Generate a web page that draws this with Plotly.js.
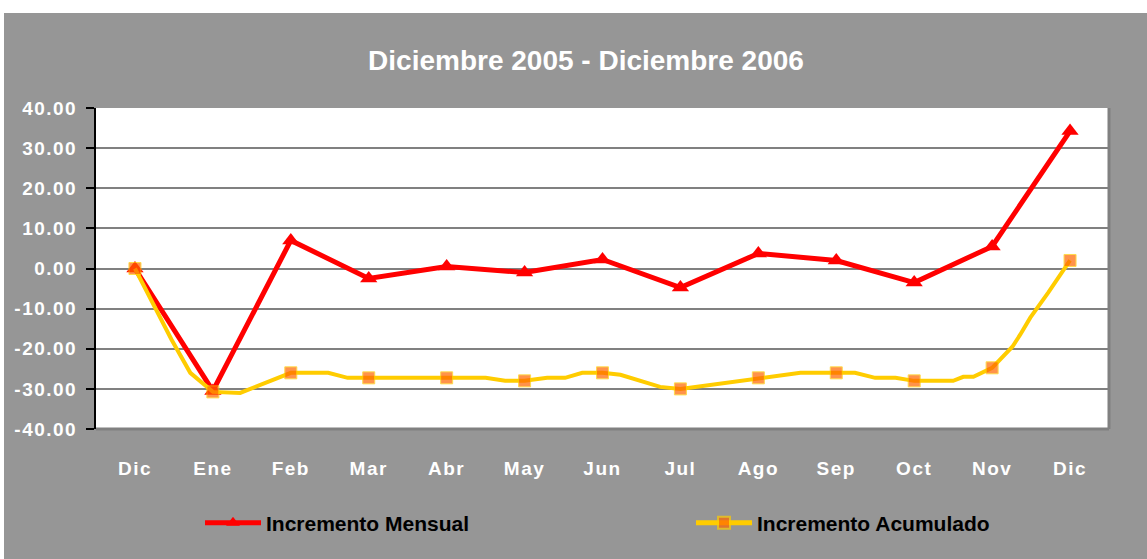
<!DOCTYPE html>
<html>
<head>
<meta charset="utf-8">
<script src="https://cdn.plot.ly/plotly-3.0.1.min.js"></script>
<style>
  html, body { margin: 0; padding: 0; background: #ffffff; width: 1147px; height: 559px; overflow: hidden; }
  #chart { position: absolute; left: 4px; top: 13px; width: 1143px; height: 546px; }
  #chart .xtick text, #chart .ytick text { letter-spacing: 1.5px; }
</style>
</head>
<body>
<div id="chart"></div>
<script>
// ---- Data ----
const meses = ["Dic", "Ene", "Feb", "Mar", "Abr", "May", "Jun", "Jul", "Ago", "Sep", "Oct", "Nov", "Dic"];
const incrementoMensual = [0, -30.5, 7, -2.5, 0.5, -1, 2.25, -4.75, 3.75, 2, -3.5, 5.5, 34.25];

// Accumulated series: drawn path with intermediate vertices (month index positions)
const acumuladoPos = [0, 0.47, 0.71, 1, 1.35, 2, 2.48, 2.73, 3, 4, 4.5, 4.75, 5, 5.29, 5.52, 5.74, 6,
                      6.23, 6.74, 7, 8, 8.54, 9, 9.24, 9.5, 9.76, 10, 10.5, 10.63, 10.76, 11,
                      11.26, 11.36, 11.49, 11.72, 12];
const incrementoAcumulado = [0, -17.75, -26, -30.75, -31, -26, -26, -27.25, -27.25, -27.25, -27.25, -28, -28, -27.25, -27.25, -26, -26,
                             -26.5, -29.5, -30, -27.25, -26, -26, -26, -27.25, -27.25, -28, -28, -27, -27, -24.75,
                             -19.5, -16.5, -12.25, -6, 2];
const yTicks = [-40, -30, -20, -10, 0, 10, 20, 30, 40];

// ---- Derived ----
const idx = meses.map((m, i) => i);
const limites = [];
for (let i = 0; i <= meses.length; i++) limites.push(i - 0.5);
const acumMarkerSize = acumuladoPos.map(p => Number.isInteger(p) ? 12 : 0);

const FONT = "'Liberation Sans', Arial, sans-serif";
const GRAY_BG = "#969696";
const GRID = "#808080";

const traces = [
  {
    type: "scatter", mode: "lines+markers", name: "Incremento Mensual",
    x: idx, y: incrementoMensual,
    line: { color: "#ff0000", width: 5 },
    marker: { symbol: "triangle-up", size: 15, color: "#ff0000" },
    legend: "legend",
    hoverinfo: "skip"
  },
  {
    type: "scatter", mode: "lines+markers", name: "Incremento Acumulado",
    x: acumuladoPos, y: incrementoAcumulado,
    line: { color: "#ffcc00", width: 4 },
    marker: { symbol: "square", size: acumMarkerSize, color: "#ff6600" },
    legend: "legend2",
    hoverinfo: "skip"
  }
];

const legendFont = { family: FONT, size: 21, color: "#000000", weight: 700 };
const legendBase = {
  orientation: "h", xref: "container", yref: "container",
  xanchor: "left", y: 1 - 510 / 546, yanchor: "middle",
  bgcolor: "rgba(0,0,0,0)", borderwidth: 0,
  itemwidth: 56, itemsizing: "constant", font: legendFont
};

const layout = {
  width: 1143, height: 546,
  paper_bgcolor: GRAY_BG, plot_bgcolor: "#ffffff",
  margin: { l: 92, r: 38, t: 95, b: 130 },
  showlegend: true,
  title: {
    text: "Diciembre 2005 - Diciembre 2006",
    font: { family: FONT, size: 28, color: "#ffffff", weight: 700 },
    x: 582 / 1143, xanchor: "center", xref: "container",
    y: 1 - 47 / 546, yanchor: "middle", yref: "container"
  },
  xaxis: {
    range: [-0.5, 12.5], tickmode: "array", tickvals: idx, ticktext: meses,
    showline: false, showgrid: false, zeroline: false, ticks: "",
    ticklabelstandoff: 26,
    tickfont: { family: FONT, size: 19, color: "#ffffff", weight: 700 }
  },
  xaxis2: {
    overlaying: "x", anchor: "y", side: "top", range: [-0.5, 12.5],
    tickmode: "array", tickvals: limites, showticklabels: false,
    ticks: "outside", ticklen: 6, tickwidth: 2, tickcolor: "#000000",
    showline: true, linecolor: "#000000", linewidth: 2, showgrid: false, zeroline: false
  },
  xaxis3: {
    overlaying: "x", anchor: "y", side: "top", range: [-0.5, 12.5],
    tickmode: "array", tickvals: limites, showticklabels: false,
    ticks: "inside", ticklen: 6, tickwidth: 2, tickcolor: "#000000",
    showline: false, showgrid: false, zeroline: false
  },
  yaxis: {
    range: [-40, 40], tickmode: "array", tickvals: yTicks,
    ticktext: yTicks.map(v => v.toFixed(2)),
    showgrid: true, gridcolor: GRID, gridwidth: 2, zeroline: false,
    showline: true, linecolor: "#000000", linewidth: 2,
    ticks: "outside", ticklen: 8, tickwidth: 2, tickcolor: "#000000",
    ticklabelstandoff: 5,
    tickfont: { family: FONT, size: 19, color: "#ffffff", weight: 700 }
  },
  yaxis2: {
    overlaying: "y", anchor: "x", side: "left", range: [-40, 40],
    tickmode: "array", tickvals: yTicks, showticklabels: false,
    ticks: "inside", ticklen: 4, tickwidth: 2, tickcolor: "#000000",
    showline: false, showgrid: false, zeroline: false
  },
  shapes: [
    { type: "line", xref: "paper", yref: "paper", x0: 0, x1: 1, y0: 0, y1: 0, line: { color: GRID, width: 3 } },
    { type: "line", xref: "paper", yref: "paper", x0: 1, x1: 1, y0: 0, y1: 1, line: { color: GRID, width: 3 } }
  ],
  legend: Object.assign({}, legendBase, { x: 196 / 1143 }),
  legend2: Object.assign({}, legendBase, { x: 687 / 1143 })
};

Plotly.newPlot("chart", traces, layout, { staticPlot: true, displayModeBar: false });
</script>
</body>
</html>
